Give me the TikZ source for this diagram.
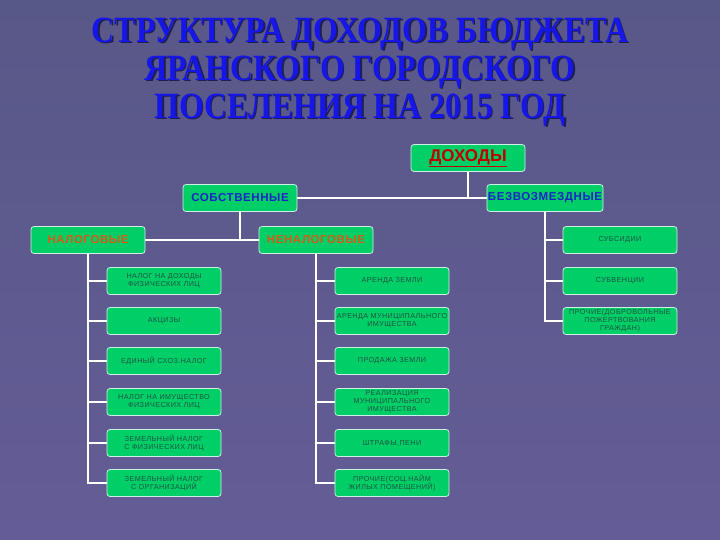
\documentclass[tikz,border=0pt]{standalone}
\usepackage{fontspec}
\setmainfont{Liberation Sans}
\newfontfamily\titlefont[FakeStretch=0.86]{Liberation Serif}
\newfontfamily\itemfont[LetterSpace=6]{Liberation Sans}
\newfontfamily\headfont[LetterSpace=5]{Liberation Sans}

\definecolor{bgtop}{RGB}{88,88,136}
\definecolor{bgbot}{RGB}{100,92,150}
\definecolor{boxgreen}{RGB}{0,206,102}
\definecolor{boxline}{RGB}{205,240,230}
\definecolor{itemtext}{RGB}{34,84,66}
\definecolor{titleblue}{RGB}{22,22,232}
\definecolor{titleshadow}{RGB}{30,30,80}
\definecolor{headblue}{RGB}{28,36,200}
\definecolor{nalorange}{RGB}{214,92,24}
\definecolor{dohred}{RGB}{190,0,0}

\tikzset{
  box/.style={rectangle,rounded corners=3pt,draw=boxline,line width=0.8pt,
    fill=boxgreen,minimum width=114pt,minimum height=27pt,inner sep=1pt,
    align=center,text=itemtext,font=\itemfont\fontsize{7.2}{8}\selectfont},
  headbox/.style={box,font=\headfont\bfseries\fontsize{11.5}{13}\selectfont,text=headblue},
  nalbox/.style={box,font=\headfont\bfseries\fontsize{11.5}{13}\selectfont,text=nalorange},
  link/.style={draw=white,line width=1.6pt}
}

\begin{document}
\begin{tikzpicture}[x=1pt,y=-1pt]
\shade [top color=bgtop,bottom color=bgbot] (0,0) rectangle (720,540);
\useasboundingbox (0,0) rectangle (720,540);

% title
\node (ttlshadow) at (361.5,73.5) [align=center,text=titleshadow,
  font=\titlefont\bfseries\fontsize{37}{38}\selectfont]
  {СТРУКТУРА ДОХОДОВ БЮДЖЕТА\\ЯРАНСКОГО ГОРОДСКОГО\\ПОСЕЛЕНИЯ НА 2015 ГОД};
\node (ttl) at (360,72) [align=center,text=titleblue,
  font=\titlefont\bfseries\fontsize{37}{38}\selectfont]
  {СТРУКТУРА ДОХОДОВ БЮДЖЕТА\\ЯРАНСКОГО ГОРОДСКОГО\\ПОСЕЛЕНИЯ НА 2015 ГОД};

% upper levels
\node (doh) at (468,158) [box,font=\bfseries\fontsize{17}{19}\selectfont,text=dohred] {\underline{ДОХОДЫ}};
\node (sob) at (240,198) [headbox] {СОБСТВЕННЫЕ};
\node (bez) at (545,198) [headbox] {БЕЗВОЗМЕЗДНЫЕ};
\node (nal) at (88,240) [nalbox] {НАЛОГОВЫЕ};
\node (nenal) at (316,240) [nalbox] {НЕНАЛОГОВЫЕ};

% налоговые
\node (nal1) at (164,281) [box] {НАЛОГ НА ДОХОДЫ\\ФИЗИЧЕСКИХ ЛИЦ};
\node (nal2) at (164,321) [box] {АКЦИЗЫ};
\node (nal3) at (164,361) [box] {ЕДИНЫЙ СХОЗ.НАЛОГ};
\node (nal4) at (164,402) [box] {НАЛОГ НА ИМУЩЕСТВО\\ФИЗИЧЕСКИХ ЛИЦ};
\node (nal5) at (164,443) [box] {ЗЕМЕЛЬНЫЙ НАЛОГ\\С ФИЗИЧЕСКИХ ЛИЦ};
\node (nal6) at (164,483) [box] {ЗЕМЕЛЬНЫЙ НАЛОГ\\С ОРГАНИЗАЦИЙ};

% неналоговые
\node (nen1) at (392,281) [box] {АРЕНДА ЗЕМЛИ};
\node (nen2) at (392,321) [box] {АРЕНДА МУНИЦИПАЛЬНОГО\\ИМУЩЕСТВА};
\node (nen3) at (392,361) [box] {ПРОДАЖА ЗЕМЛИ};
\node (nen4) at (392,402) [box] {РЕАЛИЗАЦИЯ\\МУНИЦИПАЛЬНОГО\\ИМУЩЕСТВА};
\node (nen5) at (392,443) [box] {ШТРАФЫ,ПЕНИ};
\node (nen6) at (392,483) [box] {ПРОЧИЕ(СОЦ.НАЙМ\\ЖИЛЫХ ПОМЕЩЕНИЙ)};

% безвозмездные
\node (bez1) at (620,240) [box] {СУБСИДИИ};
\node (bez2) at (620,281) [box] {СУБВЕНЦИИ};
\node (bez3) at (620,321) [box] {ПРОЧИЕ(ДОБРОВОЛЬНЫЕ\\ПОЖЕРТВОВАНИЯ\\ГРАЖДАН)};

% connectors
\draw [link] (sob.east) -- (bez.west);
\draw [link] (doh.south) -- (doh.south |- sob.east);
\draw [link] (nal.east) -- (nenal.west);
\draw [link] (sob.south) -- (sob.south |- nal.east);

\draw [link] (nal.south) |- (nal1.west);
\draw [link] (nal.south) |- (nal2.west);
\draw [link] (nal.south) |- (nal3.west);
\draw [link] (nal.south) |- (nal4.west);
\draw [link] (nal.south) |- (nal5.west);
\draw [link] (nal.south) |- (nal6.west);

\draw [link] (nenal.south) |- (nen1.west);
\draw [link] (nenal.south) |- (nen2.west);
\draw [link] (nenal.south) |- (nen3.west);
\draw [link] (nenal.south) |- (nen4.west);
\draw [link] (nenal.south) |- (nen5.west);
\draw [link] (nenal.south) |- (nen6.west);

\draw [link] (bez.south) |- (bez1.west);
\draw [link] (bez.south) |- (bez2.west);
\draw [link] (bez.south) |- (bez3.west);
\end{tikzpicture}
\end{document}
